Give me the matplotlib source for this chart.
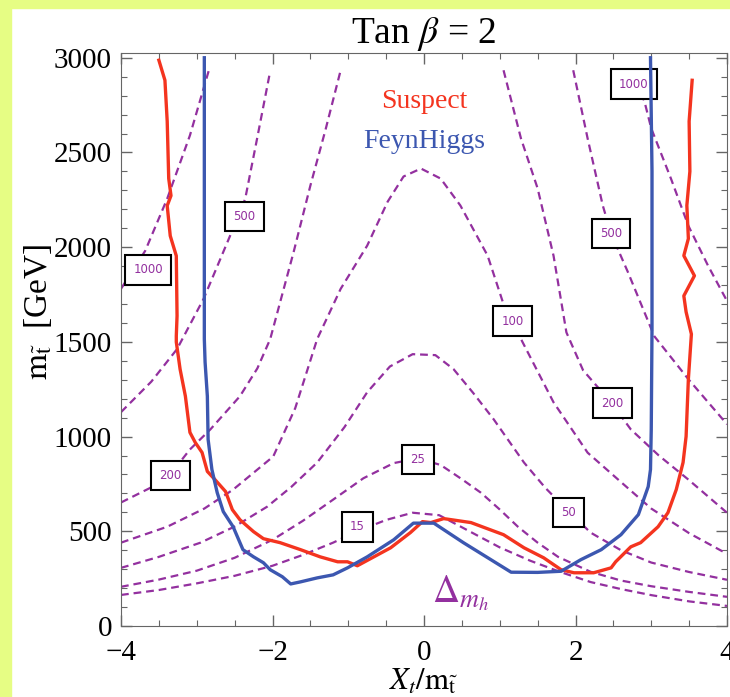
import numpy as np
import matplotlib.pyplot as plt
from matplotlib.patches import Rectangle
from matplotlib.ticker import MultipleLocator

plt.rcParams['font.family'] = ['Liberation Serif', 'DejaVu Serif']
plt.rcParams['mathtext.fontset'] = 'stix'

# contornos de Delta m_h
c15_x = [-4, -3.5, -3.0, -2.5, -2.0, -1.6, -1.2, -0.88, -0.5, -0.15, 0.2, 0.6, 1.0, 1.4, 1.8, 2.2, 2.6, 3.0, 3.5, 4]
c15_y = [164, 190, 225, 265, 318, 375, 440, 500, 560, 598, 585, 500, 415, 345, 285, 232, 195, 163, 130, 106]

c25_x = [-4, -3.5, -3.0, -2.5, -2.0, -1.6, -1.2, -0.8, -0.4, -0.08, 0.22, 0.5, 0.75, 1.0, 1.24, 1.5, 1.77, 2.2, 2.6, 3.0, 3.5, 4]
c25_y = [207, 245, 292, 360, 455, 555, 667, 780, 860, 885, 850, 775, 704, 615, 524, 440, 365, 286, 240, 210, 180, 154]

c50_x = [-4, -3.5, -2.95, -2.5, -2.07, -1.75, -1.41, -1.05, -0.75, -0.45, -0.15, 0.15, 0.39, 0.65, 0.92, 1.32, 1.6, 1.91, 2.2, 2.6, 3.0, 3.5, 4]
c50_y = [307, 365, 440, 525, 630, 735, 863, 1050, 1234, 1370, 1435, 1430, 1356, 1230, 1091, 863, 730, 604, 493, 400, 335, 285, 244]

c100_x = [-4, -3.39, -2.9, -2.52, -1.99, -1.7, -1.41, -1.1, -0.75, -0.48, -0.27, -0.04, 0.22, 0.48, 0.84, 1.04, 1.28, 1.71, 2.16, 2.6, 3.0, 3.5, 4]
c100_y = [440, 524, 620, 720, 895, 1150, 1515, 1780, 2008, 2240, 2373, 2415, 2362, 2220, 1955, 1711, 1515, 1181, 915, 760, 620, 490, 381]

c200a_x = [-4, -3.58, -3.35, -3.09, -2.82, -2.43, -2.2, -2.03, -1.72, -1.5, -1.3, -1.1]
c200a_y = [652, 736, 800, 932, 1038, 1213, 1360, 1515, 1976, 2325, 2620, 2934]
c200b_x = [1.05, 1.28, 1.5, 1.71, 1.88, 2.1, 2.47, 2.73, 3.1, 3.49, 4]
c200b_y = [2934, 2574, 2310, 1955, 1550, 1350, 1180, 1038, 900, 773, 598]

c500a_x = [-4, -3.6, -3.26, -2.91, -2.56, -2.45, -2.36, -2.2, -2.03]
c500a_y = [1129, 1290, 1462, 1727, 2060, 2160, 2256, 2580, 2930]
c500b_x = [1.97, 2.16, 2.36, 2.47, 2.69, 3.04, 3.49, 4]
c500b_y = [2934, 2574, 2220, 2071, 1870, 1530, 1303, 1065]

c1000a_x = [-4, -3.68, -3.39, -3.09, -2.84]
c1000a_y = [1780, 1981, 2256, 2590, 2934]
c1000b_x = [2.72, 2.91, 3.0, 3.26, 3.49, 3.75, 4]
c1000b_y = [2934, 2770, 2627, 2362, 2113, 1902, 1716]

# rotulos dos contornos
rot_txt = ['1000', '500', '200', '15', '25', '50', '100', '200', '500', '1000']
rot_x = [-3.64, -2.37, -3.35, -0.88, -0.08, 1.91, 1.17, 2.49, 2.47, 2.77]
rot_y = [1880, 2161, 794, 524, 879, 598, 1610, 1176, 2071, 2860]

# curvas Suspect e FeynHiggs
suspect_x = [-3.5, -3.42, -3.39, -3.37, -3.34, -3.39, -3.35, -3.27, -3.26, -3.27, -3.27, -3.22, -3.15, -3.09, -3.02,
             -2.93, -2.86, -2.76, -2.62, -2.53, -2.43, -2.25, -2.12, -1.9, -1.63, -1.37, -1.14, -1.01, -0.88, -0.44,
             -0.18, -0.02, 0.09, 0.26, 0.62, 1.05, 1.32, 1.58, 1.81, 1.98, 2.24, 2.47, 2.53, 2.73, 2.86, 3.09, 3.22,
             3.33, 3.42, 3.46, 3.49, 3.53, 3.46, 3.43, 3.57, 3.43, 3.49, 3.47, 3.51, 3.5, 3.54]
suspect_y = [2987, 2881, 2664, 2362, 2272, 2219, 2060, 1954, 1637, 1531, 1499, 1356, 1213, 1022, 969,
             916, 816, 773, 710, 614, 561, 498, 461, 440, 403, 365, 339, 339, 318, 413,
             493, 551, 546, 567, 546, 482, 413, 360, 297, 281, 281, 307, 339, 418, 440, 524, 598,
             720, 863, 1001, 1303, 1541, 1658, 1743, 1849, 1955, 2045, 2220, 2400, 2664, 2881]

feyn_x = [-2.9, -2.9, -2.89, -2.86, -2.85, -2.8, -2.73, -2.65, -2.52, -2.39, -2.25, -2.12, -2.03, -1.87, -1.76,
          -1.63, -1.41, -1.2, -1.01, -0.75, -0.4, -0.14, 0.13, 0.52, 1.15, 1.5, 1.81, 2.07, 2.34, 2.6, 2.83, 2.96,
          2.99, 3.0, 3.01, 3.01, 2.99]
feyn_y = [3000, 1515, 1393, 1213, 985, 826, 704, 604, 524, 403, 365, 334, 297, 260, 222,
          233, 254, 270, 307, 365, 455, 543, 543, 440, 284, 283, 289, 350, 403, 482, 588, 736,
          826, 1038, 1568, 2400, 3000]

roxo = '#93309f'
vermelho = '#f4341f'
azul = '#3c57b0'

fig = plt.figure(figsize=(7.3, 6.97), dpi=100)
fig.patches.append(Rectangle((0, 0), 11 / 730, 1, transform=fig.transFigure, color='#e6fd84', zorder=0))
fig.patches.append(Rectangle((0, 1 - 8 / 697), 1, 8 / 697, transform=fig.transFigure, color='#e6fd84', zorder=0))
ax = fig.add_axes([121 / 730, 1 - 626 / 697, 606 / 730, 573 / 697])

contornos = [(c15_x, c15_y), (c25_x, c25_y), (c50_x, c50_y), (c100_x, c100_y),
             (c200a_x, c200a_y), (c200b_x, c200b_y), (c500a_x, c500a_y), (c500b_x, c500b_y),
             (c1000a_x, c1000a_y), (c1000b_x, c1000b_y)]
for cx, cy in contornos:
    ax.plot(cx, cy, color=roxo, lw=1.6, ls=(0, (3.5, 2.2)), zorder=2)

for t, x, y in zip(rot_txt, rot_x, rot_y):
    ax.text(x, y, t, fontsize=8.5, color=roxo, ha='center', va='center', family='DejaVu Sans', zorder=5,
            bbox=dict(boxstyle='square,pad=0.7', fc='white', ec='black', lw=1.5))

ax.plot(suspect_x, suspect_y, color=vermelho, lw=2.4, zorder=6)
ax.plot(feyn_x, feyn_y, color=azul, lw=2.4, zorder=6)

ax.text(0.0, 2770, 'Suspect', color=vermelho, fontsize=20, ha='center', va='center')
ax.text(0.0, 2558, 'FeynHiggs', color=azul, fontsize=20, ha='center', va='center')
ax.text(0.1, 125, r'$\Delta_{m_h}$', color=roxo, fontsize=27, ha='left', va='baseline')

ax.set_xlim(-4, 4)
ax.set_ylim(0, 3025)
ax.xaxis.set_major_locator(MultipleLocator(2))
ax.xaxis.set_minor_locator(MultipleLocator(0.5))
ax.yaxis.set_major_locator(MultipleLocator(500))
ax.yaxis.set_minor_locator(MultipleLocator(100))
ax.tick_params(which='both', direction='in', top=True, right=True, colors='#666666', labelcolor='black',
               labelsize=21)
ax.tick_params(which='major', length=8, width=1)
ax.tick_params(which='minor', length=4.5, width=0.8)
ax.tick_params(axis='x', pad=10)
ax.tick_params(axis='y', pad=6.5)
for s in ax.spines.values():
    s.set_color('#666666')

ax.set_title(r'Tan $\beta$ = 2', fontsize=27, pad=6)
ax.set_xlabel(r'$X_t/\mathrm{m}_{\tilde{\mathrm{t}}}$', fontsize=22, labelpad=1)
ax.set_ylabel(r'$\mathrm{m}_{\tilde{\mathrm{t}}}$  [GeV]', fontsize=24)
ax.yaxis.set_label_coords(-0.11, 0.548)

plt.savefig('out.png', dpi=100)
